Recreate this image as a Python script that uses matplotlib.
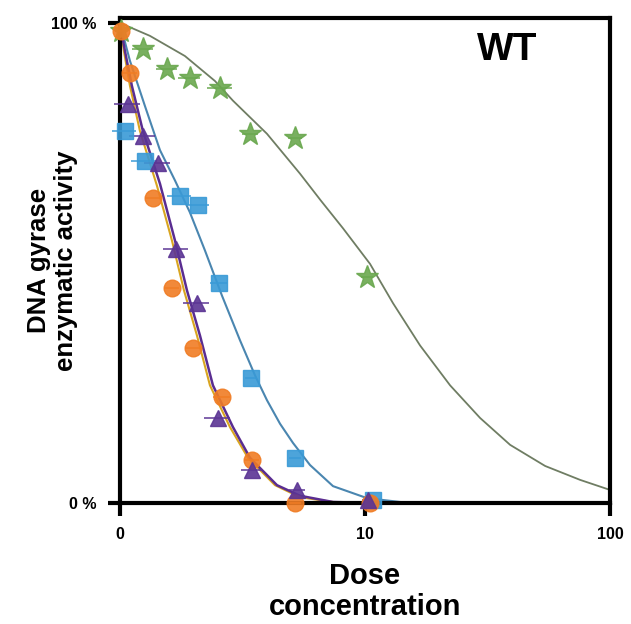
import matplotlib
matplotlib.use("Agg")
import matplotlib.pyplot as plt

# measured points (dose, activity %)
orange_x = [1.009, 1.099, 1.364, 1.630, 1.986, 2.608, 3.458, 5.180, 10.48]
orange_y = [98.3, 89.6, 63.6, 44.7, 32.2, 22.0, 8.9, 0.0, 0.0]
orange_xerr = [0.05, 0.08, 0.10, 0.12, 0.15, 0.2, 0.25, 0.3, 0.5]

purple_x = [1.078, 1.241, 1.429, 1.693, 2.062, 2.512, 3.458, 5.278, 10.29]
purple_y = [83.2, 76.5, 70.9, 53.0, 41.6, 17.7, 6.9, 2.7, 0.6]
purple_xerr = [0.13, 0.15, 0.17, 0.2, 0.25, 0.3, 0.35, 0.4, 0.6]

blue_x = [1.048, 1.265, 1.757, 2.082, 2.535, 3.425, 5.180, 10.78]
blue_y = [77.5, 71.3, 64.0, 62.0, 45.9, 26.0, 9.4, 0.6]
blue_xerr = [0.12, 0.15, 0.2, 0.22, 0.2, 0.2, 0.3, 0.6]

green_x = [1.009, 1.241, 1.555, 1.931, 2.559, 3.393, 5.180, 10.19]
green_y = [98.3, 94.6, 90.4, 88.6, 86.5, 76.9, 76.1, 47.0]
green_xerr = [0.05, 0.12, 0.15, 0.2, 0.3, 0.25, 0.35, 0.6]

# fitted curves
orange_fit_x = [1.0, 1.038, 1.099, 1.207, 1.416, 1.630, 1.825, 2.062, 2.330, 2.812, 3.330, 4.293, 5.428, 7.403]
orange_fit_y = [100, 94.2, 86.9, 77.5, 66.1, 54.7, 44.3, 34.9, 24.5, 15.8, 9.4, 3.7, 1.2, 0.2]

purple_fit_x = [1.0, 1.048, 1.119, 1.241, 1.457, 1.677, 1.877, 2.121, 2.396, 2.892, 3.393, 4.373, 5.428, 7.403, 10.48]
purple_fit_y = [100, 94.2, 86.9, 77.5, 66.5, 54.7, 44.3, 34.9, 24.5, 15.8, 9.4, 3.7, 1.5, 0.2, 0.0]

blue_fit_x = [1.0, 1.099, 1.265, 1.457, 1.677, 1.931, 2.223, 2.608, 3.089, 3.556, 3.981, 4.5, 5.083, 5.964, 7.403, 10.19, 13.90]
blue_fit_y = [100, 92.1, 82.7, 73.5, 67.2, 60.5, 52.6, 43.2, 33.9, 26.6, 21.4, 16.5, 12.5, 7.9, 3.5, 1.0, 0.2]

green_fit_x = [1.0, 1.326, 1.842, 2.442, 2.892, 3.981, 5.428, 6.6, 8.134, 10.48, 13.01, 16.77, 22.23, 29.47, 39.07, 54.29, 75.44, 100]
green_fit_y = [100, 97.3, 93.1, 87.9, 83.8, 76.9, 68.6, 63.0, 57.2, 49.8, 41.6, 32.8, 24.5, 17.7, 12.1, 7.7, 4.8, 2.7]

x_ticks = [1, 10, 100]
x_ticklabels = ["0", "10", "100"]
y_ticks = [0, 100]
y_ticklabels = ["0 %", "100 %"]

plt.rcParams["font.family"] = ["Liberation Sans", "DejaVu Sans"]

fig = plt.figure(figsize=(6.31, 6.24), dpi=100)
ax = fig.add_axes([0.190, 0.194, 0.777, 0.777])

ax.plot(green_fit_x, green_fit_y, color="#6f7d63", lw=1.3, zorder=2)
ax.plot(blue_fit_x, blue_fit_y, color="#4a86b0", lw=1.5, zorder=2)
ax.plot(orange_fit_x, orange_fit_y, color="#d9a520", lw=1.5, zorder=2)
ax.plot(purple_fit_x, purple_fit_y, color="#5a2d91", lw=1.8, zorder=2)

series = [
    (green_x, green_y, green_xerr, "#6aa84f", "*", 17),
    (blue_x, blue_y, blue_xerr, "#3a9ad6", "s", 12),
    (orange_x, orange_y, orange_xerr, "#f07c24", "o", 12),
    (purple_x, purple_y, purple_xerr, "#5b3494", "^", 12),
]
for xs, ys, xe, col, mk, ms in series:
    ax.errorbar(xs, ys, xerr=xe, fmt=mk, color=col, ms=ms, mec=col,
                ecolor=col, elinewidth=1.2, capsize=0, alpha=0.9,
                clip_on=False, zorder=3)

ax.set_xscale("log")
ax.set_xlim(1, 100)
ax.set_ylim(0, 101)
ax.set_xticks(x_ticks)
ax.set_xticklabels(x_ticklabels)
ax.minorticks_off()
ax.set_yticks(y_ticks)
ax.set_yticklabels(y_ticklabels)

for s in ax.spines.values():
    s.set_linewidth(3)
ax.tick_params(axis="both", direction="out", length=9, width=3,
               labelsize=11.5, pad=8)
for lab in ax.get_xticklabels() + ax.get_yticklabels():
    lab.set_fontweight("bold")

ax.set_xlabel("Dose\nconcentration", fontsize=21, fontweight="bold",
              linespacing=1.1, labelpad=15)
ax.set_ylabel("DNA gyrase\nenzymatic activity", fontsize=18.5,
              fontweight="bold", linespacing=1.15)
ax.yaxis.set_label_coords(-0.085, 0.5)

ax.text(0.79, 0.935, "WT", transform=ax.transAxes, fontsize=28,
        fontweight="bold", ha="center", va="center")

fig.savefig("out.png", dpi=100)
